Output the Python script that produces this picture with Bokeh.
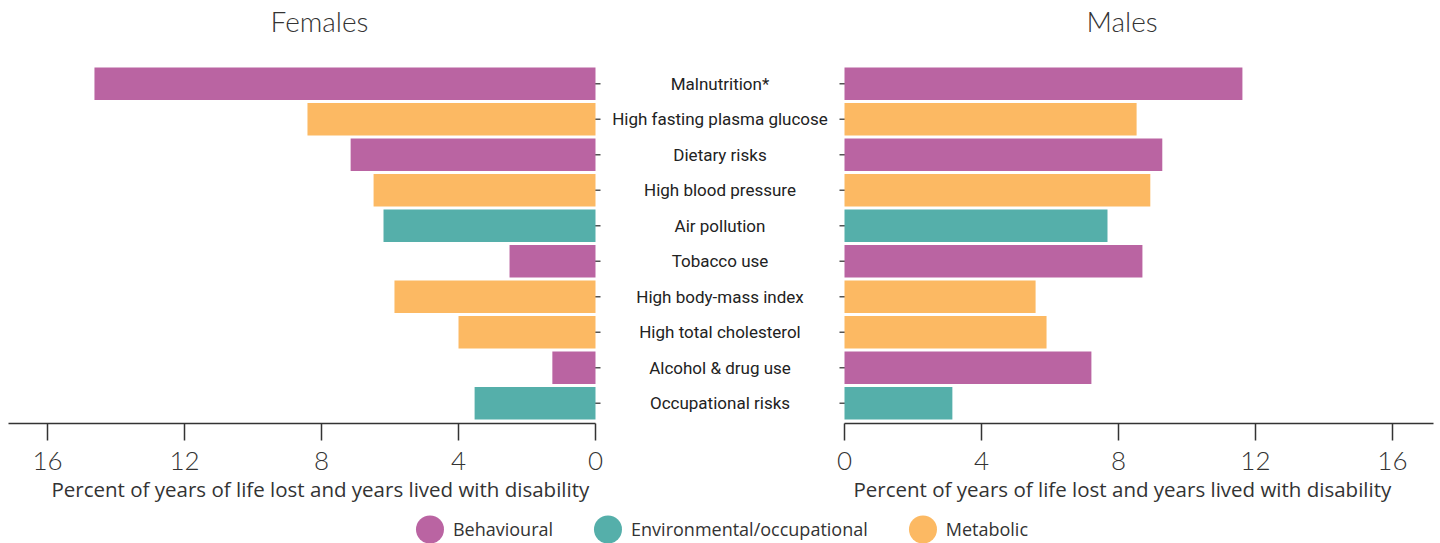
import numpy as np
from bokeh.plotting import figure
from bokeh.models import Range1d, FactorRange, FixedTicker, Legend, LegendItem, ColumnDataSource, Title
from bokeh.layouts import row, column
from bokeh.embed import file_html
from bokeh.resources import INLINE
from bokeh.core.properties import value

categories = ["Malnutrition*", "High fasting plasma glucose", "Dietary risks",
              "High blood pressure", "Air pollution", "Tobacco use",
              "High body-mass index", "High total cholesterol",
              "Alcohol & drug use", "Occupational risks"]
groups = ["Behavioural", "Metabolic", "Behavioural", "Metabolic",
          "Environmental/occupational", "Behavioural", "Metabolic", "Metabolic",
          "Behavioural", "Environmental/occupational"]
females = [14.63, 8.41, 7.15, 6.48, 6.19, 2.51, 5.87, 4.00, 1.26, 3.53]
males = [11.62, 8.53, 9.28, 8.93, 7.68, 8.70, 5.58, 5.90, 7.21, 3.15]
group_names = ["Behavioural", "Environmental/occupational", "Metabolic"]
group_colors = ["#BA64A2", "#55AFAA", "#FCB963"]
x_ticks = [0, 4, 8, 12, 16]
x_label = "Percent of years of life lost and years lived with disability"
panel_titles = ["Females", "Males"]

cmap = dict(zip(group_names, group_colors))
bar_colors = [cmap[g] for g in groups]

TXT = "#333333"
LIGHT = "Lato Light"
REG = "Open Sans"

yr = FactorRange(factors=categories[::-1], range_padding=0.07, range_padding_units="absolute")


def bare(p):
    p.outline_line_color = None
    p.xgrid.visible = False
    p.ygrid.visible = False
    return p


def title_fig(text, offset):
    p = figure(width=720, height=48, title=None, output_backend="svg", toolbar_location=None,
               x_axis_location=None, y_axis_location=None, min_border=0,
               x_range=Range1d(0, 1), y_range=Range1d(0, 1))
    bare(p)
    t = Title(text=text, align="left", offset=offset, vertical_align="top", standoff=6,
              text_font=LIGHT, text_font_style="normal", text_font_size="28px",
              text_color=TXT)
    p.add_layout(t, "above")
    return p


def side(vals, xr, bounds, left_side, label_offset):
    p = figure(frame_width=592 if left_side else 594, frame_height=360, title=None,
               x_range=xr, y_range=yr, output_backend="svg", toolbar_location=None,
               y_axis_location=None, min_border_top=15, min_border_bottom=84,
               min_border_left=8 if left_side else 10,
               min_border_right=10 if left_side else 7)
    # small category ticks at the inner edge (inner half hidden beneath the bars)
    p.scatter(x=[0] * len(categories), y=categories, marker="dash", size=11,
              line_color="#555555", line_width=1.5)
    src = ColumnDataSource(dict(y=categories, right=vals, c=bar_colors))
    p.hbar(y="y", left=0, right="right", height=0.92, color="c", source=src, line_color=None)
    bare(p)
    xa = p.xaxis[0]
    xa.bounds = bounds
    xa.ticker = FixedTicker(ticks=x_ticks)
    xa.minor_tick_line_color = None
    xa.major_tick_in = 0
    xa.major_tick_out = 17
    xa.major_tick_line_color = TXT
    xa.major_tick_line_width = 1.5
    xa.axis_line_color = TXT
    xa.axis_line_width = 1.5
    xa.major_label_text_font = LIGHT
    xa.major_label_text_font_size = "26px"
    xa.major_label_text_color = TXT
    xa.major_label_standoff = 11
    lab = Title(text=x_label, align="left", offset=label_offset, vertical_align="top",
                standoff=4, text_font=REG, text_font_style="normal",
                text_font_size="20.5px", text_color=TXT)
    p.add_layout(lab, "below")
    return p


tl = title_fig(panel_titles[0], 270)
tr = title_fig(panel_titles[1], 366)

pl = side(females, Range1d(17.14, -0.146), (0, 17.14), True, 43)
pr = side(males, Range1d(-0.146, 17.2), (0, 17.2), False, 14)

pm = figure(frame_width=219, frame_height=360, title=None, x_range=Range1d(-1, 1), y_range=yr,
            output_backend="svg", toolbar_location=None, x_axis_location=None,
            y_axis_location=None, min_border_top=15, min_border_left=0,
            min_border_right=0, min_border_bottom=0)
bare(pm)
n = len(categories)
pm.text(x=[0] * n, y=categories, text=categories,
        text_align="center", text_baseline="middle",
        text_font=value("Roboto"), text_font_size="17px",
        text_color="#222222")

pg = figure(width=1440, height=36, title=None, x_range=Range1d(0, 1), y_range=Range1d(0, 1),
            output_backend="svg", toolbar_location=None, x_axis_location=None,
            y_axis_location=None, min_border=0)
bare(pg)
items = []
for name, col in zip(group_names, group_colors):
    r = pg.ellipse(x=np.array([np.nan]), y=np.array([np.nan]), width=28, height=28,
                   width_units="screen", height_units="screen",
                   fill_color=col, line_color=None)
    items.append(LegendItem(label=name, renderers=[r]))
leg = Legend(items=items, orientation="horizontal", location="top_center",
             border_line_color=None, background_fill_alpha=0,
             label_text_font=REG, label_text_font_size="18px", label_text_color=TXT,
             glyph_width=35, glyph_height=44, label_standoff=6, spacing=37,
             padding=0, margin=0)
pg.add_layout(leg, "center")

layout = column(row(tl, tr), row(pl, pm, pr), pg)
open("out.html", "w").write(file_html(layout, INLINE))
